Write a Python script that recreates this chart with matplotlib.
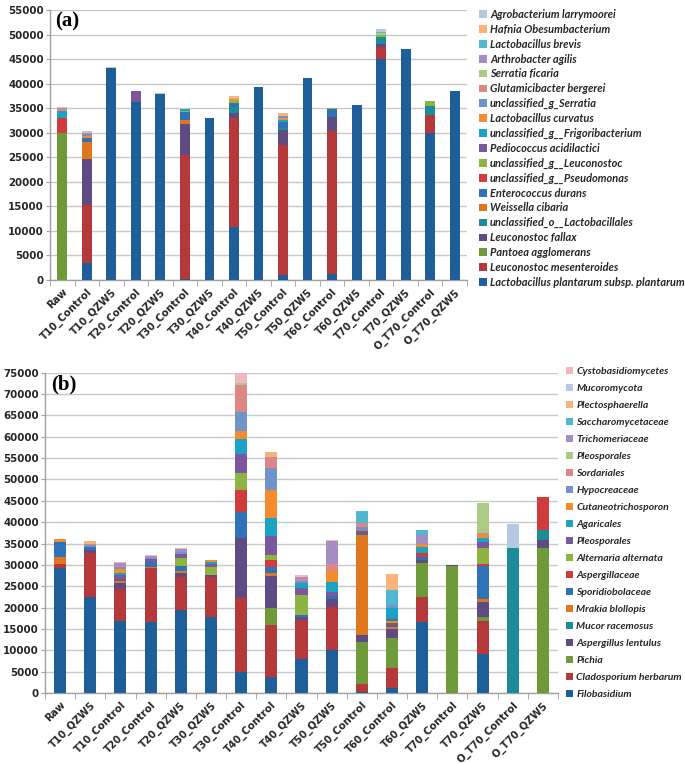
import matplotlib
matplotlib.use("Agg")
import matplotlib.pyplot as plt
import numpy as np
from matplotlib.patches import Patch

# ---------------- Panel (a) data ----------------
cats_a = ["Raw", "T10_Control", "T10_QZW5", "T20_Control", "T20_QZW5", "T30_Control",
          "T30_QZW5", "T40_Control", "T40_QZW5", "T50_Control", "T50_QZW5", "T60_Control",
          "T60_QZW5", "T70_Control", "T70_QZW5", "O_T70_Control", "O_T70_QZW5"]

a_plantarum      = [0, 3400, 43100, 36200, 37900, 300, 33100, 10700, 39300, 1000, 41200, 1200, 35700, 45000, 47000, 30000, 38400]
a_mesenteroides  = [0, 11800, 0, 0, 0, 25200, 0, 22400, 0, 26600, 0, 29200, 0, 2500, 0, 3700, 0]
a_pantoea        = [29900, 0, 0, 0, 0, 0, 0, 0, 0, 0, 0, 0, 0, 0, 0, 0, 0]
a_fallax         = [0, 9500, 0, 0, 0, 6200, 0, 1000, 0, 3000, 0, 2900, 0, 600, 0, 0, 0]
a_lactobacillales= [0, 0, 0, 0, 0, 0, 0, 1200, 0, 300, 0, 0, 0, 1300, 0, 1800, 0]
a_weissella      = [0, 3500, 0, 0, 0, 900, 0, 0, 0, 0, 0, 0, 0, 0, 0, 0, 0]
a_enterococcus   = [0, 800, 0, 0, 0, 1700, 0, 700, 0, 1200, 0, 1500, 0, 0, 0, 0, 0]
a_pseudomonas    = [3200, 0, 0, 0, 0, 0, 0, 0, 0, 0, 0, 0, 0, 0, 0, 0, 0]
a_leuconostoc    = [0, 0, 0, 0, 0, 200, 0, 500, 0, 0, 0, 300, 0, 600, 0, 900, 0]
a_pediococcus    = [0, 0, 0, 2300, 0, 0, 0, 0, 0, 0, 0, 0, 0, 0, 0, 0, 0]
a_frigoribact    = [1400, 0, 0, 0, 0, 400, 0, 0, 0, 400, 0, 0, 0, 0, 0, 0, 0]
a_curvatus       = [0, 300, 0, 0, 0, 0, 0, 300, 0, 500, 0, 0, 0, 0, 0, 0, 0]
a_serratia_g     = [0, 500, 0, 0, 0, 0, 0, 0, 0, 500, 0, 0, 0, 0, 0, 0, 0]
a_glutamicibact  = [600, 0, 0, 0, 0, 0, 0, 0, 0, 0, 0, 0, 0, 0, 0, 0, 0]
a_serratia_fic   = [0, 0, 0, 0, 0, 0, 0, 300, 0, 0, 0, 0, 0, 300, 0, 0, 0]
a_arthrobacter   = [0, 100, 0, 0, 0, 0, 0, 0, 0, 0, 0, 0, 0, 0, 0, 0, 0]
a_brevis         = [0, 0, 0, 0, 0, 0, 0, 0, 0, 0, 0, 0, 0, 300, 0, 0, 0]
a_hafnia         = [0, 300, 0, 0, 0, 0, 0, 300, 0, 500, 0, 0, 0, 0, 0, 0, 0]
a_agrobacterium  = [200, 200, 300, 0, 200, 0, 0, 0, 0, 0, 0, 0, 0, 500, 0, 0, 0]

names_a = ["Lactobacillus plantarum subsp. plantarum", "Leuconostoc mesenteroides",
           "Pantoea agglomerans", "Leuconostoc fallax", "unclassified_o__Lactobacillales",
           "Weissella cibaria", "Enterococcus durans", "unclassified_g__Pseudomonas",
           "unclassified_g__Leuconostoc", "Pediococcus acidilactici",
           "unclassified_g__Frigoribacterium", "Lactobacillus curvatus",
           "unclassified_g_Serratia", "Glutamicibacter bergerei", "Serratia ficaria",
           "Arthrobacter agilis", "Lactobacillus brevis", "Hafnia Obesumbacterium",
           "Agrobacterium larrymoorei"]
series_a = [a_plantarum, a_mesenteroides, a_pantoea, a_fallax, a_lactobacillales,
            a_weissella, a_enterococcus, a_pseudomonas, a_leuconostoc, a_pediococcus,
            a_frigoribact, a_curvatus, a_serratia_g, a_glutamicibact, a_serratia_fic,
            a_arthrobacter, a_brevis, a_hafnia, a_agrobacterium]

# ---------------- Panel (b) data ----------------
cats_b = ["Raw", "T10_QZW5", "T10_Control", "T20_Control", "T20_QZW5", "T30_QZW5",
          "T30_Control", "T40_Control", "T40_QZW5", "T50_QZW5", "T50_Control", "T60_Control",
          "T60_QZW5", "T70_Control", "T70_QZW5", "O_T70_Control", "O_T70_QZW5"]

b_filobasidium   = [29200, 22400, 16900, 16700, 19400, 17700, 4850, 3700, 8000, 10100, 300, 1100, 16700, 0, 9100, 0, 0]
b_cladosporium   = [1100, 10400, 7400, 12500, 7800, 9500, 17350, 12200, 9100, 10100, 1800, 4700, 5700, 0, 7800, 0, 0]
b_pichia         = [0, 0, 0, 0, 0, 0, 0, 4100, 0, 0, 9900, 7000, 8100, 29800, 800, 0, 34000]
b_lentulus       = [0, 800, 1500, 0, 1000, 400, 14200, 7400, 600, 1700, 1600, 2100, 600, 200, 3700, 0, 1800]
b_mucor_rac      = [0, 0, 0, 0, 0, 0, 0, 0, 0, 0, 0, 0, 0, 0, 0, 33900, 2400]
b_mrakia         = [1600, 0, 400, 400, 300, 0, 0, 600, 0, 0, 23400, 500, 0, 0, 700, 0, 0]
b_sporidiobol    = [3500, 600, 400, 1100, 1200, 0, 6000, 1600, 600, 800, 500, 500, 800, 0, 7600, 0, 0]
b_aspergillaceae = [0, 0, 300, 0, 0, 0, 5100, 1500, 0, 0, 500, 400, 800, 0, 500, 0, 7600]
b_alternaria     = [0, 0, 0, 0, 2000, 1900, 4100, 1200, 4600, 0, 0, 600, 0, 0, 3700, 0, 0]
b_pleosporales   = [0, 0, 800, 600, 900, 600, 4300, 4400, 1600, 1000, 0, 500, 0, 0, 1500, 0, 0]
b_agaricales     = [0, 0, 400, 0, 0, 500, 3500, 4200, 1200, 2400, 0, 2400, 1600, 0, 1000, 0, 0]
b_cutaneo        = [600, 0, 1000, 0, 0, 500, 2000, 6600, 0, 2500, 0, 0, 600, 0, 600, 0, 0]
b_hypocreaceae   = [0, 400, 300, 300, 500, 0, 4400, 5100, 500, 0, 900, 800, 0, 0, 0, 0, 0]
b_sordariales    = [0, 400, 400, 0, 0, 0, 6300, 2600, 500, 1600, 900, 0, 0, 0, 400, 0, 0]
b_pleosporales2  = [0, 0, 0, 0, 0, 0, 500, 0, 0, 0, 0, 0, 0, 0, 7100, 0, 0]
b_trichomeriac   = [0, 0, 700, 400, 600, 0, 0, 0, 500, 5400, 0, 0, 2100, 0, 0, 0, 0]
b_saccharomyc    = [0, 0, 0, 0, 0, 0, 0, 0, 0, 0, 2900, 3500, 1200, 0, 0, 0, 0]
b_plectosphaer   = [0, 600, 0, 0, 0, 0, 0, 1300, 0, 0, 0, 3700, 0, 0, 0, 0, 0]
b_mucoromycota   = [0, 0, 0, 0, 0, 0, 0, 0, 0, 0, 0, 0, 0, 0, 0, 5600, 0]
b_cystobasidio   = [0, 0, 200, 300, 300, 0, 2400, 0, 500, 200, 0, 0, 0, 0, 0, 0, 0]

names_b = ["Filobasidium", "Cladosporium herbarum", "Pichia", "Aspergillus lentulus",
           "Mucor racemosus", "Mrakia blollopis", "Sporidiobolaceae", "Aspergillaceae",
           "Alternaria alternata", "Pleosporales", "Agaricales", "Cutaneotrichosporon",
           "Hypocreaceae", "Sordariales", "Pleosporales", "Trichomeriaceae",
           "Saccharomycetaceae", "Plectosphaerella", "Mucoromycota", "Cystobasidiomycetes"]
series_b = [b_filobasidium, b_cladosporium, b_pichia, b_lentulus, b_mucor_rac, b_mrakia,
            b_sporidiobol, b_aspergillaceae, b_alternaria, b_pleosporales, b_agaricales,
            b_cutaneo, b_hypocreaceae, b_sordariales, b_pleosporales2, b_trichomeriac,
            b_saccharomyc, b_plectosphaer, b_mucoromycota, b_cystobasidio]

palette = ["#1F5F99", "#B5393A", "#6F9A3A", "#5F4A82", "#1C8C98", "#E0761E", "#2E73B8",
           "#D03C3C", "#8DB443", "#7B579E", "#1AA3C4", "#F58A2E", "#6E94C8", "#DE8585",
           "#A9CB86", "#A48CC4", "#4FB8CF", "#F9B27C", "#B6C8DF", "#F2B8BE"]

TXT = "#262626"
TICKFONT = ["DejaVu Sans"]
plt.rcParams["font.family"] = ["Lato", "DejaVu Sans"]

fig = plt.figure(figsize=(6.85, 7.64), dpi=100)


def draw_panel(ax, cats, series, names, ymax, label, leg_xy, leg_fs, leg_ls):
    x = np.arange(len(cats))
    bottom = np.zeros(len(cats))
    for i, vals in enumerate(series):
        v = np.array(vals, dtype=float)
        ax.bar(x, v, bottom=bottom, width=0.4, color=palette[i], linewidth=0, zorder=3)
        bottom += v
    ax.set_xlim(-0.5, len(cats) - 0.5)
    ax.set_ylim(0, ymax)
    ax.set_yticks(np.arange(0, ymax + 1, 5000))
    ax.yaxis.grid(True, color="#C8C8C8", linewidth=1.0, zorder=0)
    ax.set_axisbelow(True)
    for s in ["top", "right"]:
        ax.spines[s].set_visible(False)
    for s in ["left", "bottom"]:
        ax.spines[s].set_color("#A0A0A0")
        ax.spines[s].set_linewidth(1.0)
    ax.set_xticks(x)
    ax.set_xticklabels(cats, rotation=45, ha="right", rotation_mode="anchor",
                       fontsize=7.3, fontweight="bold", color=TXT, family=TICKFONT)
    ax.set_xticks(np.arange(-0.5, len(cats), 1), minor=True)
    ax.tick_params(axis="x", which="major", length=0, pad=5)
    ax.tick_params(axis="x", which="minor", length=4, color="#A0A0A0")
    ax.tick_params(axis="y", length=3, pad=1.5, color="#A0A0A0", labelcolor=TXT)
    for t in ax.get_yticklabels():
        t.set_fontweight("bold")
        t.set_fontsize(7.4)
        t.set_family(TICKFONT)
    ax.text(0.012, 0.995, label, transform=ax.transAxes, ha="left", va="top",
            fontsize=15, fontweight="bold", family="Liberation Serif", color="black")
    handles = [Patch(facecolor=palette[i], edgecolor="none", label=names[i])
               for i in range(len(names))][::-1]
    fig.legend(handles=handles, loc="upper left", bbox_to_anchor=leg_xy,
               frameon=False, labelspacing=leg_ls,
               handlelength=0.7, handleheight=0.7, handletextpad=0.3,
               borderaxespad=0, borderpad=0,
               prop={"style": "italic", "weight": "bold", "size": leg_fs,
                     "family": ["Lato", "DejaVu Sans"]},
               labelcolor=TXT)


ax_a = fig.add_axes([50 / 685, 1 - 280 / 764, (467 - 50) / 685, (280 - 10) / 764])
draw_panel(ax_a, cats_a, series_a, names_a, 55000, "(a)",
           (479 / 685, 1 - 9 / 764), 7.9, 0.35)

ax_b = fig.add_axes([45 / 685, 1 - 693 / 764, (558 - 45) / 685, (693 - 372.7) / 764])
draw_panel(ax_b, cats_b, series_b, names_b, 75000, "(b)",
           (566 / 685, 1 - 367 / 764), 7.5, 0.74)

fig.savefig("out.png", dpi=100, facecolor="white")
